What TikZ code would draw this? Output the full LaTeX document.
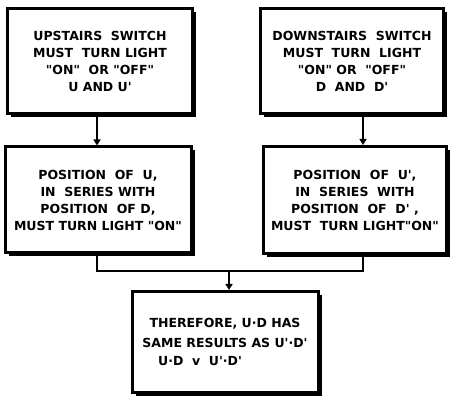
\documentclass[tikz,border=0pt]{standalone}
\usepackage{fontspec}
\setsansfont{DejaVu Sans}[Ligatures=TeXOff]
\usetikzlibrary{arrows.meta, positioning, calc, shadows}

\begin{document}
\begin{tikzpicture}[
    x=1pt, y=-1pt,
    font=\sffamily\bfseries\fontsize{12.5}{17}\selectfont,
    stage/.style={
        rectangle, draw=black, line width=3pt,
        fill=white, align=center, inner sep=0pt,
        drop shadow={shadow xshift=3.5pt, shadow yshift=-3.5pt, fill=black, opacity=1}
    },
    link/.style={draw=black, line width=2.5pt},
    flow/.style={link, -{Triangle[length=6pt, width=7pt]}}
]
\useasboundingbox (0,0) rectangle (453,406);

% 1. TOP ROW: the two switches
\node[stage, minimum width=185, minimum height=105] (Up) at (100,61)
    {UPSTAIRS\ \ SWITCH\\MUST\ \ TURN LIGHT\\"ON"\ \ OR "OFF"\\U AND U'};
\node[stage, minimum width=183, minimum height=105] (Down) at (352,61)
    {DOWNSTAIRS\ \ SWITCH\\MUST\ \ TURN\ \ LIGHT\\"ON" OR\ \ "OFF"\\D\ \ AND\ \ D'};

% 2. MIDDLE ROW: positions in series
\node[stage, minimum width=186, minimum height=106] (PosU) at (98,200)
    {POSITION\ \ OF\ \ U,\\IN\ \ SERIES WITH\\POSITION\ \ OF D,\\MUST TURN LIGHT "ON"};
\node[stage, minimum width=183, minimum height=107] (PosD) at (355,200)
    {POSITION\ \ OF\ \ U',\\IN\ \ SERIES\ \ WITH\\POSITION\ \ OF\ \ D' ,\\MUST\ \ TURN LIGHT"ON"};

\draw[flow] ([xshift=-3]Up.south) -- ([xshift=-3]Up.south |- PosU.north);
\draw[flow] ([xshift=11]Down.south) -- ([xshift=11]Down.south |- PosD.north);

% 3. BOTTOM: result
\node[stage, minimum width=186, minimum height=101] (Result) at (225,342)
    {THEREFORE, U·D HAS\\[3pt]SAME RESULTS AS U'·D'\\[1pt]U·D\ \ v\ \ U'·D'\hspace*{50pt}};

\coordinate (Join) at (229,271);
\draw[link] ([xshift=-1]PosU.south) |- (Join);
\draw[link] ([xshift=8]PosD.south) |- (Join);
\draw[flow] (Join) -- (Join |- Result.north);

\end{tikzpicture}
\end{document}
